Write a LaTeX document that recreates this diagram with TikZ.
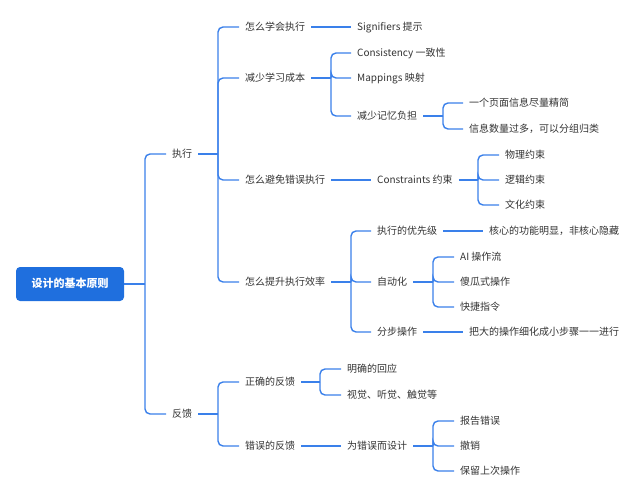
\documentclass[tikz,border=0pt]{standalone}
\usepackage{fontspec}
\setmainfont{Noto Sans CJK SC}
\definecolor{lineblue}{HTML}{3A80EA}
\definecolor{rootblue}{HTML}{1F6FDE}
\definecolor{txt}{HTML}{333333}
\begin{document}
\begin{tikzpicture}[x=1pt,y=-1pt,
  every node/.style={font=\fontsize{10}{12}\selectfont, text=txt, inner xsep=6pt, inner ysep=2pt,
    text height=8.8pt, text depth=1.2pt, anchor=west},
  conn/.style={draw=lineblue, line width=1.4pt},
  arm/.style={conn, rounded corners=5pt},
  rootbox/.style={anchor=center, fill=rootblue, rounded corners=4pt, text=white,
    minimum width=108pt, minimum height=34pt, font=\fontsize{11}{13}\selectfont\bfseries}]
\useasboundingbox (0,0) rectangle (640,498);

\node[rootbox] (root) at (70,284) {设计的基本原则};

\node (n1) at (166,154) {执行};
\node (n2) at (166,414) {反馈};

\node (n11) at (239,27) {怎么学会执行};
\node (n12) at (239,78) {减少学习成本};
\node (n13) at (239,180) {怎么避免错误执行};
\node (n14) at (239,282) {怎么提升执行效率};
\node (n21) at (239,382) {正确的反馈};
\node (n22) at (239,446) {错误的反馈};

\node (n111) at (351,27) {Signifiers 提示};
\node (n121) at (351,53) {Consistency 一致性};
\node (n122) at (351,78) {Mappings 映射};
\node (n123) at (351,116) {减少记忆负担};
\node (n1231) at (463,103) {一个页面信息尽量精简};
\node (n1232) at (463,129) {信息数量过多，可以分组归类};

\node (n131) at (371,180) {Constraints 约束};
\node (n1311) at (499,155) {物理约束};
\node (n1312) at (499,180) {逻辑约束};
\node (n1313) at (499,205) {文化约束};

\node (n141) at (371,231) {执行的优先级};
\node (n142) at (371,282) {自动化};
\node (n143) at (371,332) {分步操作};
\node (n1411) at (483,231) {核心的功能明显，非核心隐藏};
\node (n1421) at (454,257) {AI 操作流};
\node (n1422) at (454,282) {傻瓜式操作};
\node (n1423) at (454,307) {快捷指令};
\node (n1431) at (463,332) {把大的操作细化成小步骤一一进行};

\node (n211) at (341,369) {明确的回应};
\node (n212) at (341,395) {视觉、听觉、触觉等};
\node (n221) at (341,446) {为错误而设计};
\node (n2211) at (454,421) {报告错误};
\node (n2212) at (454,446) {撤销};
\node (n2213) at (454,471) {保留上次操作};

% spine points
\coordinate (s0) at (145,284);
\coordinate (s1) at (218,154);
\coordinate (s2) at (218,414);
\coordinate (s12) at (331,78);
\coordinate (s123) at (443,116);
\coordinate (s131) at (478,180);
\coordinate (s14) at (351,282);
\coordinate (s142) at (433,282);
\coordinate (s21) at (320,382);
\coordinate (s221) at (433,446);

% root
\draw[conn] (root.east) -- (s0);
\draw[arm] (s0) |- (n1.west);
\draw[arm] (s0) |- (n2.west);

% 执行
\draw[conn] (n1.east) -- (s1);
\foreach \c in {n11,n12,n13,n14} \draw[arm] (s1) |- (\c.west);

\draw[conn] (n11.east) -- (n111.west);

\draw[conn] (n12.east) -- (s12);
\foreach \c in {n121,n122,n123} \draw[arm] (s12) |- (\c.west);
\draw[conn] (n123.east) -- (s123);
\foreach \c in {n1231,n1232} \draw[arm] (s123) |- (\c.west);

\draw[conn] (n13.east) -- (n131.west);
\draw[conn] (n131.east) -- (s131);
\foreach \c in {n1311,n1312,n1313} \draw[arm] (s131) |- (\c.west);

\draw[conn] (n14.east) -- (s14);
\foreach \c in {n141,n142,n143} \draw[arm] (s14) |- (\c.west);
\draw[conn] (n141.east) -- (n1411.west);
\draw[conn] (n142.east) -- (s142);
\foreach \c in {n1421,n1422,n1423} \draw[arm] (s142) |- (\c.west);
\draw[conn] (n143.east) -- (n1431.west);

% 反馈
\draw[conn] (n2.east) -- (s2);
\foreach \c in {n21,n22} \draw[arm] (s2) |- (\c.west);
\draw[conn] (n21.east) -- (s21);
\foreach \c in {n211,n212} \draw[arm] (s21) |- (\c.west);
\draw[conn] (n22.east) -- (n221.west);
\draw[conn] (n221.east) -- (s221);
\foreach \c in {n2211,n2212,n2213} \draw[arm] (s221) |- (\c.west);
\end{tikzpicture}
\end{document}
